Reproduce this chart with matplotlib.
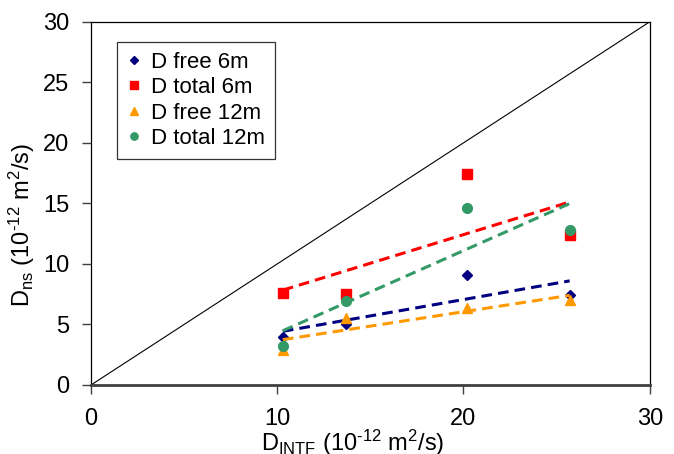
import numpy as np
import matplotlib
matplotlib.use('Agg')
import matplotlib.pyplot as plt

plt.rcParams['font.family'] = ['Liberation Sans', 'DejaVu Sans']
plt.rcParams['mathtext.fontset'] = 'custom'
plt.rcParams['mathtext.rm'] = 'Liberation Sans'
plt.rcParams['mathtext.it'] = 'Liberation Sans'

# D_INTF values (x) and D_ns values (y), 10^-12 m2/s
x_intf = [10.3, 13.7, 20.2, 25.7]
d_free_6m = [4.0, 5.0, 9.1, 7.4]
d_total_6m = [7.6, 7.5, 17.4, 12.4]
d_free_12m = [2.9, 5.5, 6.4, 7.0]
d_total_12m = [3.2, 6.9, 14.6, 12.8]

labels = ['D free 6m', 'D total 6m', 'D free 12m', 'D total 12m']
series = [d_free_6m, d_total_6m, d_free_12m, d_total_12m]
colors = ['#000080', '#ff0000', '#ff9900', '#339966']
markers = ['D', 's', '^', 'o']
sizes = [5, 7, 7, 7]

fig = plt.figure(figsize=(6.74, 4.54), dpi=100)
ax = fig.add_axes([0.135, 0.152, 0.829, 0.8])

# 1:1 line
ax.plot([0, 30], [0, 30], color='black', lw=0.8)

x = np.array(x_intf)
for ys, lab, c, m, s in zip(series, labels, colors, markers, sizes):
    ax.plot(x, ys, m, color=c, ms=s, label=lab, linestyle='none')
    k, b = np.polyfit(x, ys, 1)
    ax.plot(x, k * x + b, '--', color=c, lw=2.2, dashes=(3.5, 2))

ax.set_xlim(0, 30)
ax.set_ylim(0, 30)
ax.set_xticks([0, 10, 20, 30])
ax.set_yticks([0, 5, 10, 15, 20, 25, 30])
ax.tick_params(direction='out', length=6.5, width=1, colors='#404040',
               labelcolor='black', labelsize=17, pad=9)
ax.tick_params(axis='x', pad=10)
for sp in ['top', 'right', 'left']:
    ax.spines[sp].set_color('black')
    ax.spines[sp].set_linewidth(0.9)
ax.spines['bottom'].set_color('#404040')
ax.spines['bottom'].set_linewidth(2)

ax.set_xlabel(r'D$_{\mathregular{INTF}}$ (10$^{\mathregular{\text{-}12}}$ m$^{\mathregular{2}}$/s)',
              fontsize=17)
ax.set_ylabel(r'D$_{\mathregular{ns}}$ (10$^{\mathregular{\text{-}12}}$ m$^{\mathregular{2}}$/s)',
              fontsize=17)
ax.xaxis.set_label_coords(0.469, -0.118)
ax.yaxis.set_label_coords(-0.097, 0.44)

leg = ax.legend(loc='upper left', bbox_to_anchor=(0.0465, 0.945), borderaxespad=0,
                fontsize=16, frameon=True, fancybox=False, edgecolor='black',
                handlelength=0.6, handletextpad=0.5, labelspacing=0.2,
                borderpad=0.45, markerscale=0.75)
leg.get_frame().set_linewidth(0.9)

fig.savefig('out.png', dpi=100)
